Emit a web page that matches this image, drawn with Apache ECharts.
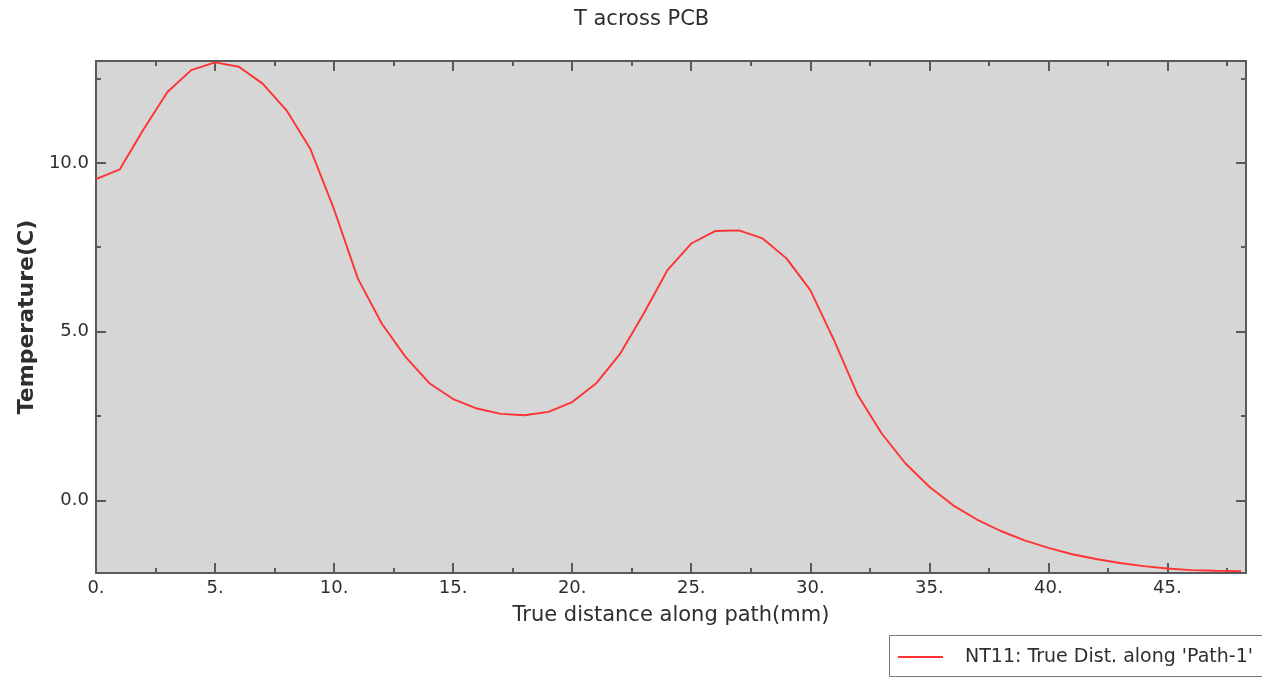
<!DOCTYPE html>
<html>
<head>
<meta charset="utf-8">
<script src="https://cdn.jsdelivr.net/npm/echarts@6/dist/echarts.min.js"></script>
<style>
html,body{margin:0;padding:0;background:#fff;}
#c{width:1262px;height:678px;}
</style>
</head>
<body>
<div id="c"></div>
<script>
const titleText = 'T across PCB';
const xName = 'True distance along path(mm)';
const yName = 'Temperature(C)';
const seriesName = "NT11: True Dist. along 'Path-1'";
const distance = [0,1,2,3,4,5,6,7,8,9,10,11,12,13,14,15,16,17,18,19,20,21,22,23,24,25,26,27,28,29,30,31,32,33,34,35,36,37,38,39,40,41,42,43,44,45,46,47,48.1];
const temperature = [9.52,9.81,11.0,12.1,12.75,12.98,12.85,12.35,11.56,10.42,8.62,6.57,5.24,4.25,3.47,3.0,2.72,2.56,2.52,2.62,2.91,3.46,4.33,5.53,6.82,7.61,7.98,8.0,7.76,7.17,6.23,4.74,3.11,1.98,1.09,0.4,-0.15,-0.57,-0.91,-1.19,-1.41,-1.6,-1.74,-1.86,-1.95,-2.02,-2.07,-2.09,-2.1];
const xMajor = [0,5,10,15,20,25,30,35,40,45];
const xMinor = [2.5,7.5,12.5,17.5,22.5,27.5,32.5,37.5,42.5,47.5];
const yMajor = [0,5,10];
const yMinor = [2.5,7.5,12.5];
const xRange = [0, 48.3];
const yRange = [-2.155, 13.02];

const axisColor = '#5a5a5a';
const textColor = '#2e2e2e';
const font = 'DejaVu Sans';

function xAx(pos, ticks, len, labels, showLine, extra) {
  return Object.assign({
    type: 'value', position: pos, min: xRange[0], max: xRange[1],
    axisLine: {show: showLine, onZero: false, lineStyle: {color: axisColor, width: 2}},
    axisTick: {show: true, inside: true, length: len, customValues: ticks, lineStyle: {color: axisColor, width: 2}},
    axisLabel: labels ? {show: true, customValues: labels, formatter: v => v + '.', color: textColor, fontFamily: font, fontSize: 18, margin: 6} : {show: false},
    splitLine: {show: false}
  }, extra || {});
}
function yAx(pos, ticks, len, labels, showLine, extra) {
  return Object.assign({
    type: 'value', position: pos, min: yRange[0], max: yRange[1],
    axisLine: {show: showLine, onZero: false, lineStyle: {color: axisColor, width: 2}},
    axisTick: {show: true, inside: true, length: len, customValues: ticks, lineStyle: {color: axisColor, width: 2}},
    axisLabel: labels ? {show: true, customValues: labels, formatter: v => v.toFixed(1), color: textColor, fontFamily: font, fontSize: 18, margin: 7} : {show: false},
    splitLine: {show: false}
  }, extra || {});
}

const chart = echarts.init(document.getElementById('c'), null, {renderer: 'canvas'});
chart.setOption({
  animation: false,
  backgroundColor: '#fff',
  title: {text: titleText, left: 569, top: 4, textStyle: {fontFamily: font, fontSize: 21, fontWeight: 'normal', color: textColor}},
  grid: {left: 96, right: 16, top: 61, bottom: 105, show: true, backgroundColor: '#d6d6d6', borderWidth: 0},
  xAxis: [
    xAx('bottom', xMajor, 10, xMajor, true, {name: xName, nameLocation: 'middle', nameGap: 32, nameTextStyle: {fontFamily: font, fontSize: 21, color: textColor}}),
    xAx('bottom', xMinor, 5, null, false),
    xAx('top', xMajor, 10, null, true),
    xAx('top', xMinor, 5, null, false)
  ],
  yAxis: [
    yAx('left', yMajor, 10, yMajor, true, {name: yName, nameLocation: 'middle', nameGap: 54, nameTextStyle: {fontFamily: font, fontSize: 22, fontWeight: 'bold', color: textColor}}),
    yAx('left', yMinor, 5, null, false),
    yAx('right', yMajor, 10, null, true),
    yAx('right', yMinor, 5, null, false)
  ],
  series: [{
    name: seriesName,
    type: 'line',
    xAxisIndex: 0, yAxisIndex: 0,
    data: distance.map((d, i) => [d, temperature[i]]),
    symbol: 'none',
    lineStyle: {color: '#ff3333', width: 1.9},
    itemStyle: {color: '#ff3333'}
  }],
  graphic: [
    {type: 'rect', shape: {x: 889.5, y: 635.5, width: 400, height: 41}, style: {fill: '#fff', stroke: '#777', lineWidth: 1}},
    {type: 'line', shape: {x1: 898, y1: 657, x2: 943, y2: 657}, style: {stroke: '#ff3333', lineWidth: 1.9}},
    {type: 'text', x: 965, y: 657, style: {text: seriesName, fontFamily: font, fontSize: 19, fill: textColor, verticalAlign: 'middle'}}
  ]
});
</script>
</body>
</html>
